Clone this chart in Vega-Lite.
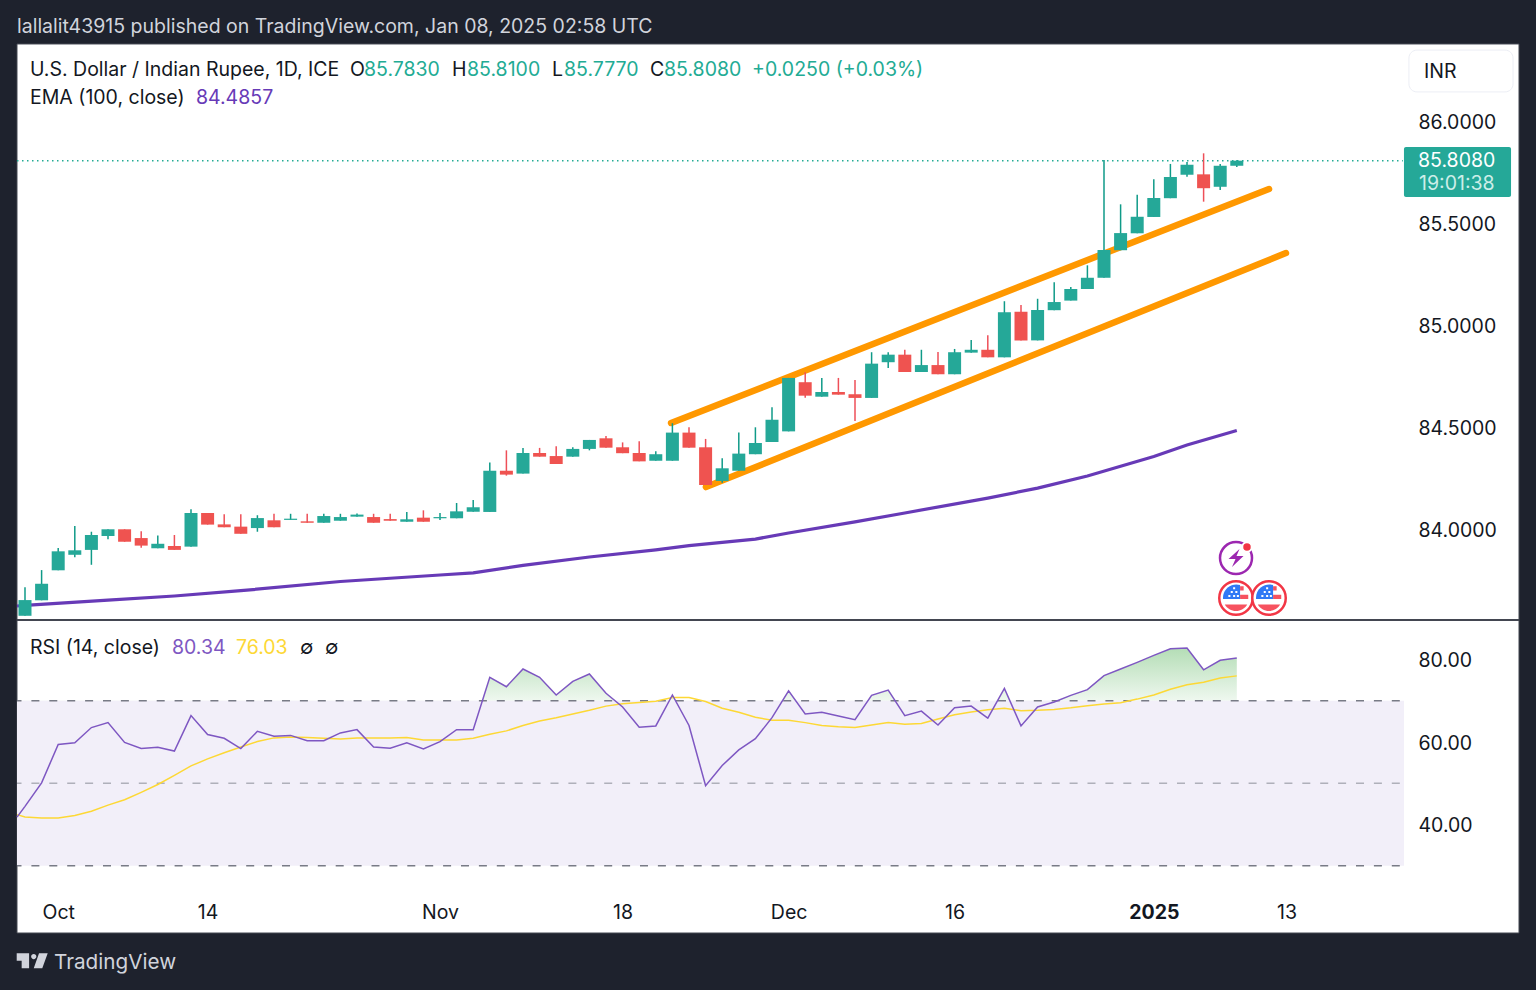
{"$schema":"https://vega.github.io/schema/vega-lite/v6.json","width":1536,"height":990,"padding":{"left":0,"right":0,"top":0,"bottom":0},"autosize":{"type":"fit","contains":"padding"},"background":"#1e222d","config":{"view":{"stroke":null},"font":"Inter","text":{"font":"Inter"},"axis":{"labelFont":"Inter"}},
"datasets":{
"candles":[
{"bar":0,"open":83.577,"high":83.717,"low":83.577,"close":83.654},{"bar":1,"open":83.653,"high":83.801,"low":83.653,"close":83.734},{"bar":2,"open":83.8,"high":83.909,"low":83.8,"close":83.893},{"bar":3,"open":83.876,"high":84.017,"low":83.864,"close":83.898},{"bar":4,"open":83.9,"high":83.989,"low":83.827,"close":83.973},{"bar":5,"open":83.968,"high":84.001,"low":83.952,"close":84.001},{"bar":6,"open":84.001,"high":84.001,"low":83.94,"close":83.94},{"bar":7,"open":83.958,"high":83.991,"low":83.911,"close":83.921},{"bar":8,"open":83.908,"high":83.97,"low":83.908,"close":83.93},{"bar":9,"open":83.919,"high":83.973,"low":83.9,"close":83.9},
{"bar":10,"open":83.916,"high":84.099,"low":83.916,"close":84.081},{"bar":11,"open":84.081,"high":84.081,"low":84.024,"close":84.024},{"bar":12,"open":84.025,"high":84.075,"low":84.011,"close":84.011},{"bar":13,"open":84.014,"high":84.075,"low":83.979,"close":83.979},{"bar":14,"open":84.007,"high":84.07,"low":83.989,"close":84.056},{"bar":15,"open":84.045,"high":84.077,"low":84.011,"close":84.011},{"bar":16,"open":84.047,"high":84.077,"low":84.047,"close":84.053},{"bar":17,"open":84.04,"high":84.077,"low":84.033,"close":84.033},{"bar":18,"open":84.033,"high":84.077,"low":84.033,"close":84.066},{"bar":19,"open":84.043,"high":84.077,"low":84.043,"close":84.061},
{"bar":20,"open":84.063,"high":84.079,"low":84.063,"close":84.073},{"bar":21,"open":84.061,"high":84.077,"low":84.033,"close":84.033},{"bar":22,"open":84.051,"high":84.077,"low":84.043,"close":84.043},{"bar":23,"open":84.038,"high":84.086,"low":84.038,"close":84.05},{"bar":24,"open":84.058,"high":84.094,"low":84.038,"close":84.038},{"bar":25,"open":84.055,"high":84.081,"low":84.047,"close":84.061},{"bar":26,"open":84.055,"high":84.13,"low":84.055,"close":84.089},{"bar":27,"open":84.087,"high":84.145,"low":84.087,"close":84.109},{"bar":28,"open":84.086,"high":84.329,"low":84.086,"close":84.288},{"bar":29,"open":84.288,"high":84.388,"low":84.264,"close":84.269},
{"bar":30,"open":84.274,"high":84.4,"low":84.274,"close":84.375},{"bar":31,"open":84.375,"high":84.4,"low":84.357,"close":84.357},{"bar":32,"open":84.36,"high":84.408,"low":84.321,"close":84.321},{"bar":33,"open":84.357,"high":84.403,"low":84.357,"close":84.395},{"bar":34,"open":84.395,"high":84.439,"low":84.388,"close":84.439},{"bar":35,"open":84.447,"high":84.458,"low":84.401,"close":84.401},{"bar":36,"open":84.403,"high":84.427,"low":84.374,"close":84.374},{"bar":37,"open":84.375,"high":84.432,"low":84.334,"close":84.334},{"bar":38,"open":84.337,"high":84.383,"low":84.337,"close":84.369},{"bar":39,"open":84.337,"high":84.521,"low":84.337,"close":84.475},
{"bar":40,"open":84.475,"high":84.501,"low":84.401,"close":84.401},{"bar":41,"open":84.403,"high":84.444,"low":84.218,"close":84.218},{"bar":42,"open":84.238,"high":84.349,"low":84.229,"close":84.3},{"bar":43,"open":84.288,"high":84.476,"low":84.288,"close":84.372},{"bar":44,"open":84.369,"high":84.501,"low":84.369,"close":84.424},{"bar":45,"open":84.429,"high":84.599,"low":84.429,"close":84.538},{"bar":46,"open":84.481,"high":84.743,"low":84.481,"close":84.743},{"bar":47,"open":84.722,"high":84.771,"low":84.646,"close":84.656},{"bar":48,"open":84.651,"high":84.743,"low":84.651,"close":84.674},{"bar":49,"open":84.674,"high":84.743,"low":84.661,"close":84.661},
{"bar":50,"open":84.663,"high":84.733,"low":84.532,"close":84.645},{"bar":51,"open":84.645,"high":84.869,"low":84.645,"close":84.813},{"bar":52,"open":84.82,"high":84.869,"low":84.792,"close":84.857},{"bar":53,"open":84.857,"high":84.881,"low":84.772,"close":84.772},{"bar":54,"open":84.772,"high":84.881,"low":84.772,"close":84.806},{"bar":55,"open":84.806,"high":84.87,"low":84.761,"close":84.761},{"bar":56,"open":84.761,"high":84.885,"low":84.761,"close":84.869},{"bar":57,"open":84.867,"high":84.929,"low":84.867,"close":84.881},{"bar":58,"open":84.881,"high":84.952,"low":84.844,"close":84.844},{"bar":59,"open":84.844,"high":85.119,"low":84.844,"close":85.065},
{"bar":60,"open":85.068,"high":85.101,"low":84.927,"close":84.927},{"bar":61,"open":84.927,"high":85.131,"low":84.927,"close":85.076},{"bar":62,"open":85.075,"high":85.212,"low":85.075,"close":85.115},{"bar":63,"open":85.122,"high":85.189,"low":85.122,"close":85.179},{"bar":64,"open":85.179,"high":85.295,"low":85.179,"close":85.234},{"bar":65,"open":85.234,"high":85.811,"low":85.234,"close":85.37},{"bar":66,"open":85.369,"high":85.594,"low":85.369,"close":85.453},{"bar":67,"open":85.452,"high":85.641,"low":85.452,"close":85.533},{"bar":68,"open":85.532,"high":85.717,"low":85.532,"close":85.625},{"bar":69,"open":85.624,"high":85.792,"low":85.624,"close":85.728},
{"bar":70,"open":85.739,"high":85.802,"low":85.729,"close":85.788},{"bar":71,"open":85.741,"high":85.844,"low":85.607,"close":85.673},{"bar":72,"open":85.68,"high":85.792,"low":85.664,"close":85.783},{"bar":73,"open":85.783,"high":85.81,"low":85.777,"close":85.808}],
"ema":[{"bar":-0.48,"price":83.625},{"bar":0,"price":83.628},{"bar":5,"price":83.654},{"bar":9,"price":83.674},{"bar":13,"price":83.7},{"bar":19,"price":83.745},{"bar":25,"price":83.777},{"bar":27,"price":83.787},{"bar":30,"price":83.824},{"bar":34,"price":83.865},{"bar":38,"price":83.9},{"bar":40,"price":83.921},{"bar":44,"price":83.953},{"bar":46,"price":83.983},{"bar":50,"price":84.037},{"bar":53,"price":84.081},{"bar":58,"price":84.154},{"bar":61,"price":84.203},{"bar":64,"price":84.262},{"bar":68,"price":84.358},{"bar":70,"price":84.414},{"bar":73,"price":84.4857}],
"channels":[{"channel":"upper","bar":38.92,"price":84.522},{"channel":"upper","bar":74.94,"price":85.669},{"channel":"lower","bar":41.02,"price":84.208},{"channel":"lower","bar":75.96,"price":85.355}],
"rsi":[{"bar":-0.48,"rsi":41.8,"ma":42.4},{"bar":0,"rsi":44.4,"ma":41.8},{"bar":1,"rsi":50.1,"ma":41.6},{"bar":2,"rsi":59.4,"ma":41.6},{"bar":3,"rsi":59.8,"ma":42.2},{"bar":4,"rsi":63.5,"ma":43.2},{"bar":5,"rsi":64.7,"ma":44.7},{"bar":6,"rsi":59.9,"ma":46},{"bar":7,"rsi":58.45,"ma":47.8},{"bar":8,"rsi":58.7,"ma":49.7},{"bar":9,"rsi":57.8,"ma":51.9},{"bar":10,"rsi":66.4,"ma":54.2},{"bar":11,"rsi":61.8,"ma":55.9},{"bar":12,"rsi":60.9,"ma":57.4},{"bar":13,"rsi":58.4,"ma":58.8},{"bar":14,"rsi":62.6,"ma":60.1},{"bar":15,"rsi":61.4,"ma":61},{"bar":16,"rsi":61.6,"ma":61.2},{"bar":17,"rsi":60.3,"ma":61.1},{"bar":18,"rsi":60.3,"ma":60.9},{"bar":19,"rsi":62.2,"ma":60.7},{"bar":20,"rsi":63,"ma":61},{"bar":21,"rsi":58.8,"ma":61},{"bar":22,"rsi":58.5,"ma":61},{"bar":23,"rsi":59.8,"ma":61.1},{"bar":24,"rsi":58.3,"ma":60.5},{"bar":25,"rsi":60.1,"ma":60.5},{"bar":26,"rsi":63,"ma":60.5},{"bar":27,"rsi":63,"ma":60.9},{"bar":28,"rsi":75.7,"ma":61.9},{"bar":29,"rsi":73.4,"ma":62.7},{"bar":30,"rsi":77.7,"ma":64},{"bar":31,"rsi":75.7,"ma":65.1},{"bar":32,"rsi":71.4,"ma":65.9},{"bar":33,"rsi":74.7,"ma":66.8},{"bar":34,"rsi":76.5,"ma":67.7},{"bar":35,"rsi":71.8,"ma":68.7},{"bar":36,"rsi":68.5,"ma":69.3},{"bar":37,"rsi":63.6,"ma":69.6},{"bar":38,"rsi":63.9,"ma":69.9},{"bar":39,"rsi":71.4,"ma":70.8},{"bar":40,"rsi":64,"ma":70.8},{"bar":41,"rsi":49.4,"ma":69.8},{"bar":42,"rsi":54.3,"ma":68.2},{"bar":43,"rsi":58.1,"ma":67.2},{"bar":44,"rsi":60.8,"ma":66},{"bar":45,"rsi":65.9,"ma":65.3},{"bar":46,"rsi":72.4,"ma":65.3},{"bar":47,"rsi":66.8,"ma":64.7},{"bar":48,"rsi":67.2,"ma":64},{"bar":49,"rsi":66.3,"ma":63.7},{"bar":50,"rsi":65.4,"ma":63.5},{"bar":51,"rsi":71.3,"ma":64.1},{"bar":52,"rsi":72.6,"ma":64.7},{"bar":53,"rsi":66.4,"ma":64.3},{"bar":54,"rsi":67.5,"ma":64.5},{"bar":55,"rsi":64.1,"ma":65.6},{"bar":56,"rsi":68.3,"ma":66.6},{"bar":57,"rsi":68.7,"ma":67.3},{"bar":58,"rsi":65.8,"ma":67.8},{"bar":59,"rsi":73,"ma":68.2},{"bar":60,"rsi":63.9,"ma":67.6},{"bar":61,"rsi":68.5,"ma":67.7},{"bar":62,"rsi":69.7,"ma":67.9},{"bar":63,"rsi":71.3,"ma":68.3},{"bar":64,"rsi":72.7,"ma":68.8},{"bar":65,"rsi":76.1,"ma":69.2},{"bar":66,"rsi":77.7,"ma":69.5},{"bar":67,"rsi":79.3,"ma":70.4},{"bar":68,"rsi":81,"ma":71.4},{"bar":69,"rsi":82.6,"ma":72.8},{"bar":70,"rsi":82.8,"ma":73.9},{"bar":71,"rsi":77.5,"ma":74.5},{"bar":72,"rsi":79.8,"ma":75.5},{"bar":73,"rsi":80.34,"ma":76.03}],
"annotations":[
{"bar":-0.482,"price":86.468,"label":"lallalit43915 published on TradingView.com, Jan 08, 2025 02:58 UTC","role":"chrome"},
{"bar":0.301,"price":86.257,"label":"U.S. Dollar / Indian Rupee, 1D, ICE","role":"ink"},
{"bar":19.578,"price":86.257,"label":"O","role":"ink"},{"bar":20.422,"price":86.257,"label":"85.7830","role":"teal"},
{"bar":25.723,"price":86.257,"label":"H","role":"ink"},{"bar":26.627,"price":86.257,"label":"85.8100","role":"teal"},
{"bar":31.747,"price":86.257,"label":"L","role":"ink"},{"bar":32.47,"price":86.257,"label":"85.7770","role":"teal"},
{"bar":37.651,"price":86.257,"label":"C","role":"ink"},{"bar":38.494,"price":86.257,"label":"85.8080","role":"teal"},
{"bar":43.795,"price":86.257,"label":"+0.0250 (+0.03%)","role":"teal"},
{"bar":0.301,"price":86.12,"label":"EMA (100, close)","role":"ink"},{"bar":10.301,"price":86.12,"label":"84.4857","role":"ema"},
{"bar":84.277,"price":86.248,"label":"INR","role":"ink"},
{"bar":83.916,"price":85.811,"label":"85.8080","role":"white"},{"bar":83.976,"price":85.699,"label":"19:01:38","role":"timer"},
{"bar":0.301,"price":83.424,"label":"RSI (14, close)","role":"ink"},{"bar":8.855,"price":83.424,"label":"80.34","role":"rsi"},{"bar":12.711,"price":83.424,"label":"76.03","role":"ma"},{"bar":16.566,"price":83.424,"label":"∅","role":"ink"},{"bar":18.072,"price":83.424,"label":"∅","role":"ink"}],
"flags":[{"bar":72.952,"price":83.664},{"bar":74.94,"price":83.664}]
},
"encoding":{"x":{"field":"bar","type":"quantitative","scale":{"domain":[-1.506,91.024],"nice":false,"zero":false,"padding":0},"axis":{"orient":"bottom","offset":-90,"values":[2,11,25,36,46,56,68,76],"labelExpr":"{'2':'Oct','11':'14','25':'Nov','36':'18','46':'Dec','56':'16','68':'2025','76':'13'}[datum.value]","title":null,"domain":false,"ticks":false,"grid":false,"labelPadding":3,"labelFontSize":19.5,"labelColor":"#131722","labelFont":"Inter","labelFontWeight":{"condition":{"test":"datum.value == 68","value":"bold"},"value":"normal"},"zindex":1}}},
"resolve":{"scale":{"y":"independent"}},
"layer":[
{"encoding":{"y":{"field":"price","type":"quantitative","scale":{"domain":[81.7426,86.5956],"nice":false,"zero":false},"axis":{"orient":"right","offset":-133,"values":[84,84.5,85,85.5,86],"format":".4f","title":null,"domain":false,"ticks":false,"grid":false,"labelPadding":15,"labelOffset":1,"labelFontSize":19.5,"labelColor":"#131722","labelFont":"Inter","zindex":1}}},
"layer":[
{"data":{"values":[{"bar":-0.482,"bar2":90,"price":86.38,"price2":82.022}]},"mark":{"type":"rect","fill":"#ffffff","stroke":"#434651","strokeWidth":1},"encoding":{"x2":{"field":"bar2"},"y2":{"field":"price2"}}},
{"data":{"values":[{"bar":-0.482,"bar2":90,"price":83.556}]},"mark":{"type":"rule","color":"#434651","strokeWidth":2},"encoding":{"x2":{"field":"bar2"}}},
{"data":{"values":[{"bar":-0.482,"bar2":83,"price":85.808}]},"mark":{"type":"rule","color":"#22ab94","strokeWidth":1.5,"strokeDash":[1.5,3.5]},"encoding":{"x2":{"field":"bar2"}}},
{"data":{"name":"ema"},"mark":{"type":"line","color":"#673ab7","strokeWidth":3.2},"encoding":{}},
{"data":{"name":"channels"},"mark":{"type":"line","color":"#ff9800","strokeWidth":6.5,"strokeCap":"round"},"encoding":{"detail":{"field":"channel"}}},
{"data":{"name":"candles"},"mark":{"type":"rule","strokeWidth":1.5},"encoding":{"y":{"field":"high","type":"quantitative","scale":{"domain":[81.7426,86.5956],"nice":false,"zero":false},"axis":{"orient":"right","offset":-133,"values":[84,84.5,85,85.5,86],"format":".4f","title":null,"domain":false,"ticks":false,"grid":false,"labelPadding":15,"labelOffset":1,"labelFontSize":19.5,"labelColor":"#131722","labelFont":"Inter","zindex":1}},"y2":{"field":"low"},"color":{"condition":{"test":"datum.close >= datum.open","value":"#0f9a88"},"value":"#ee4f58"}}},
{"data":{"name":"candles"},"mark":{"type":"bar","width":13},"encoding":{"y":{"field":"open","type":"quantitative","scale":{"domain":[81.7426,86.5956],"nice":false,"zero":false},"axis":{"orient":"right","offset":-133,"values":[84,84.5,85,85.5,86],"format":".4f","title":null,"domain":false,"ticks":false,"grid":false,"labelPadding":15,"labelOffset":1,"labelFontSize":19.5,"labelColor":"#131722","labelFont":"Inter","zindex":1}},"y2":{"field":"close"},"color":{"condition":{"test":"datum.close >= datum.open","value":"#25a898"},"value":"#ef5350"}}},
{"data":{"values":[{"bar":83.07,"bar2":89.52,"price":85.875,"price2":85.63}]},"mark":{"type":"rect","fill":"#25a898","cornerRadius":2},"encoding":{"x2":{"field":"bar2"},"y2":{"field":"price2"}}},
{"data":{"values":[{"bar":83.37,"bar2":89.64,"price":86.35,"price2":86.145}]},"mark":{"type":"rect","fill":"#ffffff","stroke":"#eceef5","strokeWidth":1,"cornerRadius":8},"encoding":{"x2":{"field":"bar2"},"y2":{"field":"price2"}}},
{"data":{"name":"annotations"},"mark":{"type":"text","align":"left","baseline":"middle","fontSize":19.5,"dy":1},"encoding":{"text":{"field":"label"},"color":{"field":"role","type":"nominal","legend":null,"scale":{"domain":["chrome","ink","teal","ema","white","timer","rsi","ma"],"range":["#d1d4dc","#131722","#22ab94","#673ab7","#ffffff","#cdeee8","#7e57c2","#fdd835"]}}}},
{"data":{"values":[{"bar":1.747,"price":81.88,"label":"TradingView"}]},"mark":{"type":"text","align":"left","baseline":"middle","fontSize":20.7,"dy":1,"color":"#d1d4dc"},"encoding":{"text":{"field":"label"}}},
{"data":{"values":[{"bar":0.434,"price":81.885}]},"mark":{"type":"point","filled":true,"size":961,"opacity":1,"color":"#d1d4dc","shape":"M-1,-0.5 H-0.2 V0.47 H-0.68 V-0.02 H-1 Z M-0.07,-0.28 a0.17,0.17 0 1,0 0.34,0 a0.17,0.17 0 1,0 -0.34,0 Z M0.44,-0.5 H1 L0.65,0.47 H0.1 Z"},"encoding":{}},
{"data":{"values":[{"bar":72.952,"price":83.86}]},"mark":{"type":"point","filled":false,"opacity":1,"shape":"circle","size":1024,"stroke":"#9c27b0","strokeWidth":2.5},"encoding":{}},
{"data":{"values":[{"bar":72.952,"price":83.86}]},"mark":{"type":"point","filled":true,"opacity":1,"size":400,"color":"#9c27b0","shape":"M0.35,-0.9 L-0.75,0.1 H-0.05 L-0.4,0.9 L0.75,-0.2 H0.05 Z"},"encoding":{}},
{"data":{"values":[{"bar":73.614,"price":83.914}]},"mark":{"type":"point","filled":true,"opacity":1,"shape":"circle","size":90,"fill":"#f23645","stroke":"#ffffff","strokeWidth":2},"encoding":{}},
{"data":{"name":"flags"},"mark":{"type":"point","filled":true,"opacity":1,"shape":"circle","size":1122,"fill":"#ffffff","stroke":"#f23645","strokeWidth":2.5},"encoding":{}},
{"data":{"name":"flags"},"mark":{"type":"point","filled":true,"opacity":1,"size":1156,"color":"#f7525f","shape":"M0.24,-0.7 H0.45 V-0.45 H0.24 Z M0.24,-0.2 H0.72 V0.06 H0.24 Z M-0.66,0.38 H0.66 A0.76,0.76 0 0 1 -0.66,0.38 Z"},"encoding":{}},
{"data":{"name":"flags"},"mark":{"type":"point","filled":true,"opacity":1,"size":1156,"color":"#3179f5","shape":"M0.24,-0.77 V0.06 H-0.76 A0.78,0.78 0 0 1 0.24,-0.77 Z"},"encoding":{}},
{"data":{"name":"flags"},"mark":{"type":"point","filled":true,"opacity":1,"size":1156,"color":"#ffffff","shape":"M-0.45,-0.18 h0.12 v0.12 h-0.12 Z M-0.17,-0.18 h0.12 v0.12 h-0.12 Z M0.05,-0.18 h0.12 v0.12 h-0.12 Z M-0.31,-0.42 h0.12 v0.12 h-0.12 Z M-0.04,-0.42 h0.12 v0.12 h-0.12 Z M-0.17,-0.64 h0.12 v0.12 h-0.12 Z"},"encoding":{}}
]},
{"encoding":{"y":{"field":"rsi","type":"quantitative","scale":{"domain":[-0.12,239.88],"nice":false,"zero":false},"axis":{"orient":"right","offset":-133,"values":[40,60,80],"format":".2f","title":null,"domain":false,"ticks":false,"grid":false,"labelPadding":15,"labelOffset":1,"labelFontSize":19.5,"labelColor":"#131722","labelFont":"Inter","zindex":1}}},
"layer":[
{"data":{"name":"rsi"},"mark":{"type":"area","color":{"gradient":"linear","x1":0,"y1":0,"x2":0,"y2":1,"stops":[{"offset":0,"color":"rgba(76,175,80,0.42)"},{"offset":0.38,"color":"rgba(76,175,80,0.02)"},{"offset":1,"color":"rgba(76,175,80,0)"}]}},"encoding":{"y2":{"datum":70}}},
{"data":{"values":[{"bar":-0.482,"bar2":83.07,"rsi":70,"rsi2":30}]},"mark":{"type":"rect","fill":"#f2eff9"},"encoding":{"x2":{"field":"bar2"},"y2":{"field":"rsi2"}}},
{"data":{"values":[{"bar":-0.482,"bar2":83.07,"rsi":70},{"bar":-0.482,"bar2":83.07,"rsi":50},{"bar":-0.482,"bar2":83.07,"rsi":30}]},"mark":{"type":"rule","color":"#787b86","strokeWidth":1.5,"strokeDash":[8,9.9],"strokeDashOffset":3.5},"encoding":{"x2":{"field":"bar2"},"opacity":{"condition":{"test":"datum.rsi == 50","value":0.55},"value":1}}},
{"data":{"name":"rsi"},"mark":{"type":"line","color":"#fdd835","strokeWidth":1.5},"encoding":{"y":{"field":"ma","type":"quantitative","scale":{"domain":[-0.12,239.88],"nice":false,"zero":false},"axis":{"orient":"right","offset":-133,"values":[40,60,80],"format":".2f","title":null,"domain":false,"ticks":false,"grid":false,"labelPadding":15,"labelOffset":1,"labelFontSize":19.5,"labelColor":"#131722","labelFont":"Inter","zindex":1}}}},
{"data":{"name":"rsi"},"mark":{"type":"line","color":"#7e57c2","strokeWidth":1.5},"encoding":{}}
]}
]}
